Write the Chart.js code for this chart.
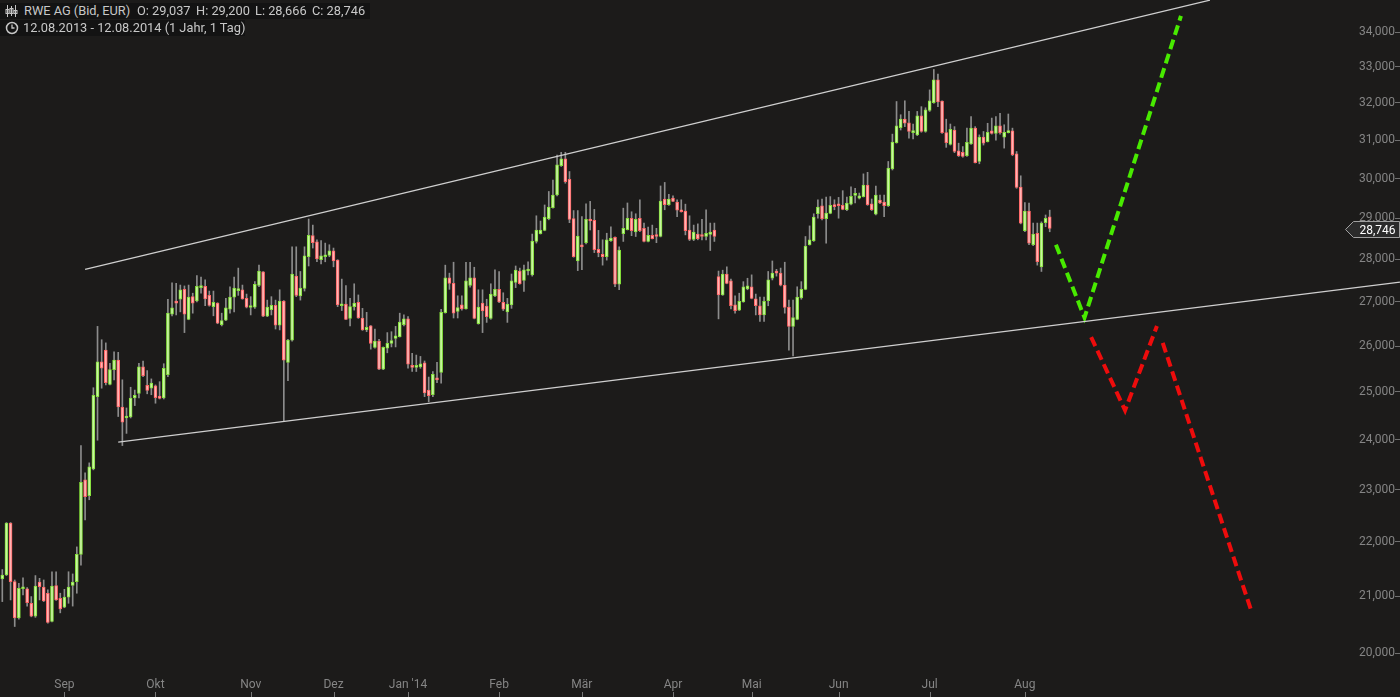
<!DOCTYPE html>
<html>
<head>
<meta charset="utf-8">
<script src="https://cdn.jsdelivr.net/npm/chart.js@4.4.1/dist/chart.umd.min.js"></script>
<style>
  html, body { margin: 0; padding: 0; background: #1c1b1a; }
  #wrap { position: relative; width: 1400px; height: 697px; overflow: hidden; }
  canvas { display: block; }
  .bar { position: absolute; left: 0; height: 16px; background: #131313; }
  .txt { position: absolute; color: #c8c8c8; font: 12.8px Roboto, sans-serif; line-height: 16px; white-space: pre; }
  svg { position: absolute; }
</style>
</head>
<body>
<div id="wrap">
  <canvas id="chart" width="1400" height="697"></canvas>
  <div class="bar" style="top:3px;width:370px"></div>
  <div class="bar" style="top:20px;width:245px"></div>
  <svg width="14" height="14" style="left:4px;top:4px" viewBox="0 0 14 14">
    <g stroke="#c6c6c6" stroke-width="1" fill="none">
      <line x1="3.5" y1="1" x2="3.5" y2="13"/><rect x="2" y="5.5" width="3" height="4"/>
      <line x1="7.5" y1="2" x2="7.5" y2="12"/><rect x="6" y="4.5" width="3" height="5"/>
      <line x1="11.5" y1="1" x2="11.5" y2="13"/><rect x="10" y="6.5" width="3" height="3"/>
    </g>
  </svg>
  <svg width="14" height="14" style="left:5px;top:21px" viewBox="0 0 14 14">
    <circle cx="7" cy="7" r="5.5" stroke="#c6c6c6" stroke-width="1.5" fill="none"/>
    <path d="M7 3.5 V7 H9.5" stroke="#c6c6c6" stroke-width="1.3" fill="none"/>
  </svg>
  <div class="txt" style="left:24px;top:3px">RWE AG (Bid, EUR)</div>
  <div class="txt" style="left:137px;top:3px">O: 29,037</div>
  <div class="txt" style="left:196px;top:3px">H: 29,200</div>
  <div class="txt" style="left:255px;top:3px">L: 28,666</div>
  <div class="txt" style="left:312px;top:3px">C: 28,746</div>
  <div class="txt" style="left:23px;top:20px">12.08.2013 - 12.08.2014 (1 Jahr, 1 Tag)</div>
</div>
<script>
// daily candles 12.08.2013 - 12.08.2014, EUR
const opens = [
  21.31,21.38,22.35,21.26,20.61,21.13,21.13,20.87,20.64,21.25,
  21.16,21.05,20.55,21.19,20.96,20.80,20.98,21.19,21.26,21.76,
  23.19,22.88,23.41,24.90,25.65,25.91,25.16,25.48,25.69,24.68,
  24.45,24.47,24.87,24.97,25.54,25.14,25.08,25.13,24.91,24.87,
  25.37,26.72,27.00,27.06,27.29,26.60,27.12,27.02,27.33,27.36,
  27.15,26.89,26.97,26.48,26.58,26.83,27.11,27.26,27.28,27.08,
  26.87,26.88,27.38,27.70,26.67,26.82,26.92,26.47,27.02,25.64,
  26.13,27.60,27.14,27.31,28.06,28.57,28.42,27.99,28.06,28.09,
  28.20,27.98,26.91,26.95,26.62,26.89,26.99,26.63,26.36,26.45,
  25.97,26.11,25.49,25.95,26.06,26.17,26.21,26.48,26.61,25.54,
  25.53,25.54,25.63,25.04,24.94,25.29,25.42,26.75,27.56,27.43,
  26.78,26.93,26.84,27.38,27.56,26.50,26.97,26.90,26.62,27.14,
  27.29,26.99,26.77,26.93,27.45,27.72,27.50,27.72,27.63,28.43,
  28.62,28.70,28.99,29.26,29.58,30.33,30.51,29.98,28.99,27.96,
  28.32,28.40,28.97,28.95,28.24,28.12,28.06,28.45,28.53,27.41,
  28.62,28.72,29.00,28.66,29.00,28.75,28.43,28.58,28.57,28.55,
  29.48,29.34,29.50,29.40,29.21,29.18,28.71,28.48,28.61,28.59,
  28.55,28.60,28.71,27.59,27.16,27.65,27.49,26.93,26.81,27.00,
  27.30,27.35,27.07,26.91,26.70,27.03,27.55,27.70,27.67,27.39,
  26.88,26.44,26.60,27.09,27.29,28.35,28.45,29.11,29.31,28.99,
  29.12,29.31,29.32,29.32,29.21,29.35,29.57,29.50,29.54,29.83,
  29.36,29.10,29.45,29.40,29.31,30.25,30.93,31.33,31.56,31.46,
  31.20,31.14,31.65,31.23,31.80,32.01,32.64,32.05,31.20,30.89,
  31.27,30.72,30.68,30.59,30.90,31.32,30.44,31.08,30.96,31.25,
  31.18,31.38,31.08,31.20,31.25,30.64,29.78,28.69,29.18,28.35,
  28.63,27.82,28.89,29.037
];
const highs = [
  21.48,22.36,22.36,21.29,21.23,21.33,21.15,20.99,21.37,21.32,
  21.29,21.11,21.44,21.44,21.05,21.12,21.44,21.40,21.90,23.88,
  23.33,23.53,25.09,26.44,26.14,26.07,25.62,25.87,25.86,25.26,
  24.66,25.10,25.04,25.62,25.67,25.46,25.28,25.15,25.22,25.61,
  27.06,27.44,27.43,27.39,27.37,27.39,27.20,27.61,27.58,27.51,
  27.25,27.25,26.98,26.74,27.08,27.35,27.58,27.79,27.39,27.18,
  27.12,27.47,27.86,27.71,27.04,27.12,27.04,27.28,27.03,26.15,
  28.30,28.30,27.71,28.30,28.98,28.83,28.47,28.45,28.39,28.35,
  28.27,27.99,27.53,27.38,27.08,27.42,27.16,26.85,26.76,26.46,
  26.38,26.15,25.98,26.30,26.32,26.44,26.74,26.70,26.66,25.84,
  25.80,25.77,25.67,25.32,25.44,25.64,26.83,27.86,27.67,27.93,
  27.14,27.14,27.93,27.93,27.81,27.28,27.28,27.06,27.42,27.75,
  27.71,27.21,27.08,27.65,27.84,27.79,27.86,27.94,28.61,29.06,
  28.93,29.33,29.67,29.96,30.61,30.68,30.68,30.18,29.19,29.19,
  29.04,29.36,29.42,29.22,28.70,28.47,28.63,28.79,28.54,28.30,
  29.25,29.38,29.16,29.11,29.46,28.88,28.78,28.83,28.75,29.81,
  29.90,29.60,29.56,29.46,29.46,29.35,29.06,28.83,28.86,28.97,
  29.21,28.88,28.88,27.72,27.74,27.82,27.53,27.14,27.20,27.47,
  27.55,27.63,27.18,27.11,27.11,27.71,27.96,27.76,27.79,27.93,
  27.04,27.04,27.35,27.47,28.55,28.81,29.11,29.46,29.48,29.53,
  29.54,29.46,29.52,29.69,29.53,29.79,29.75,29.63,30.12,30.16,
  29.48,29.81,29.58,29.58,30.44,31.16,32.04,31.68,32.06,31.77,
  31.43,31.77,31.90,31.87,32.36,32.93,32.80,32.06,31.56,31.43,
  31.36,30.92,30.83,31.32,31.63,31.36,31.14,31.23,31.45,31.59,
  31.63,31.72,31.41,31.70,31.32,30.70,30.07,29.39,29.38,28.88,
  28.88,28.91,29.08,29.200
];
const lows = [
  20.90,21.37,20.93,20.46,20.59,21.02,20.82,20.63,20.62,20.93,
  20.90,20.52,20.54,20.92,20.70,20.79,20.87,20.82,21.05,21.56,
  22.41,22.80,23.39,23.99,25.08,25.15,25.15,25.26,24.48,23.88,
  24.13,24.45,24.71,24.87,25.33,24.96,24.94,24.76,24.85,24.85,
  25.33,26.68,26.70,26.77,26.30,26.59,26.74,27.00,27.20,26.91,
  26.90,26.68,26.50,26.45,26.57,26.74,26.77,27.15,27.06,26.86,
  26.70,26.85,27.35,26.66,26.66,26.70,26.38,26.36,24.38,25.24,
  26.11,27.12,27.04,27.25,27.84,28.27,27.94,27.89,27.94,28.06,
  27.82,26.89,26.80,26.59,26.45,26.81,26.62,26.35,26.32,25.93,
  25.95,25.48,25.48,25.85,25.98,25.98,26.20,26.45,25.51,25.44,
  25.44,25.51,24.90,24.79,24.90,25.20,25.19,26.74,27.29,26.63,
  26.63,26.81,26.83,27.34,26.61,26.49,26.30,26.53,26.60,27.12,
  26.98,26.80,26.53,26.85,27.33,27.41,27.24,27.63,27.60,28.39,
  28.61,28.69,28.96,29.25,29.56,30.31,29.88,28.89,28.05,27.73,
  27.75,28.37,28.71,28.16,28.06,27.86,27.98,28.43,27.35,27.28,
  28.43,28.71,28.57,28.55,28.67,28.42,28.42,28.49,28.40,28.54,
  29.21,29.32,29.41,29.04,29.15,28.59,28.45,28.45,28.47,28.47,
  28.47,28.21,28.43,26.61,27.15,27.42,26.84,26.74,26.80,26.99,
  27.28,27.07,26.70,26.55,26.55,26.91,27.51,27.60,27.37,26.74,
  25.91,25.78,26.59,27.06,27.28,28.34,28.43,29.00,28.96,28.39,
  29.11,29.21,29.00,29.21,29.19,29.33,29.38,29.48,29.53,29.32,
  29.19,29.08,29.36,29.04,29.29,30.22,30.92,31.27,31.36,31.05,
  31.03,31.12,31.21,31.21,31.77,31.99,31.90,31.18,30.81,30.87,
  30.67,30.57,30.55,30.57,30.89,30.40,30.38,30.87,30.95,31.16,
  31.00,31.16,30.79,31.19,30.59,29.75,28.86,28.67,28.35,28.33,
  27.86,27.71,28.79,28.666
];
const closes = [
  21.38,22.35,21.26,20.61,21.14,21.15,20.88,20.64,21.18,21.17,
  20.91,20.53,21.18,20.93,20.77,20.98,21.16,21.25,21.76,23.14,
  22.86,23.45,24.93,25.65,25.51,25.20,25.48,25.69,24.68,24.36,
  24.47,24.87,24.93,25.54,25.35,25.03,25.19,24.88,24.86,25.51,
  26.74,26.86,26.97,27.28,26.72,27.11,26.97,27.36,27.35,27.07,
  26.92,26.99,26.51,26.57,26.86,27.11,27.32,27.31,27.07,26.88,
  26.89,27.41,27.72,26.67,26.88,26.92,26.47,27.02,25.69,26.13,
  27.65,27.15,27.32,28.08,28.58,28.40,28.01,28.08,28.10,28.20,
  27.96,26.93,26.95,26.60,26.89,26.97,26.63,26.36,26.42,26.06,
  26.11,25.49,25.97,26.06,26.12,26.23,26.54,26.61,25.60,25.53,
  25.56,25.61,24.98,24.92,25.38,25.26,26.76,27.56,27.43,26.74,
  26.87,26.84,27.49,27.56,26.62,26.88,26.79,26.66,27.18,27.29,
  27.00,26.83,26.95,27.49,27.74,27.42,27.75,27.76,28.44,28.71,
  28.71,29.03,29.28,29.58,30.35,30.51,29.92,28.97,28.06,28.56,
  28.30,28.97,28.93,28.23,28.16,28.06,28.47,28.51,27.41,28.22,
  28.75,29.00,28.69,28.97,28.69,28.43,28.58,28.50,28.55,29.43,
  29.34,29.48,29.42,29.20,29.16,28.69,28.48,28.66,28.50,28.55,
  28.63,28.66,28.55,27.16,27.65,27.43,26.91,26.80,27.01,27.35,
  27.37,27.08,26.91,26.70,27.01,27.51,27.67,27.67,27.39,26.87,
  26.44,26.64,27.11,27.29,28.32,28.47,29.03,29.28,28.99,29.13,
  29.32,29.29,29.31,29.22,29.38,29.55,29.61,29.56,29.83,29.34,
  29.21,29.58,29.38,29.31,30.27,30.95,31.38,31.56,31.45,31.23,
  31.25,31.65,31.23,31.81,32.06,32.64,32.03,31.20,30.93,31.29,
  30.70,30.59,30.57,30.94,31.32,30.41,31.08,30.92,31.21,31.18,
  31.38,31.20,31.21,31.25,30.62,29.77,28.88,29.18,28.39,28.61,
  27.94,28.88,29.00,28.746
];

// x axis: candle index, month labels at first trading day
const monthLabels = ['Sep', 'Okt', 'Nov', 'Dez', "Jan '14", 'Feb', 'Mär', 'Apr', 'Mai', 'Jun', 'Jul', 'Aug'];
const monthIdx = [15, 37, 60, 80, 98, 120, 140, 162, 181, 202, 224, 247];
const yTicks = [20, 21, 22, 23, 24, 25, 26, 27, 28, 29, 30, 31, 32, 33, 34];

// drawn trend channel (candle index / price)
const upperTrendX = [20, 291.7];
const upperTrendY = [27.76, 34.94];
const lowerTrendX = [28, 337.6];
const lowerTrendY = [23.95, 27.46];

// projected scenarios
const bullX = [254.5, 261.4, 284.7];
const bullY = [28.35, 26.64, 34.47];
const bearX1 = [263, 271.2, 278.9];
const bearY1 = [26.20, 24.61, 26.45];
const bearX2 = [280.3, 301.8];
const bearY2 = [26.07, 20.71];

const xMin = -0.556, xMax = 336.4;
const yMin = 19.68, yMax = 34.943;

const GREEN_FILL = '#c8f5a2', GREEN_LINE = '#85e03a';
const RED_FILL = '#ffb4b4', RED_LINE = '#ff6464';
const AXIS_TEXT = '#858585';

const up = closes.map((c, i) => c >= opens[i]);
const fmt = v => v.toFixed(3).replace('.', ',');
const pts = (xs, ys) => xs.map((x, i) => ({ x: x, y: ys[i] }));

const lastClose = closes[closes.length - 1];

const priceTag = {
    id: 'priceTag',
    afterDraw(chart) {
        const ctx = chart.ctx;
        const y = Math.round(chart.scales.y.getPixelForValue(lastClose)) + 0.5;
        const r = chart.width - 0.5;
        ctx.save();
        ctx.beginPath();
        ctx.moveTo(r - 54, y);
        ctx.lineTo(r - 46, y - 8);
        ctx.lineTo(r, y - 8);
        ctx.lineTo(r, y + 8);
        ctx.lineTo(r - 46, y + 8);
        ctx.closePath();
        ctx.fillStyle = '#2b2b2b';
        ctx.fill();
        ctx.strokeStyle = '#a0a0a0';
        ctx.lineWidth = 1;
        ctx.stroke();
        ctx.fillStyle = '#ffffff';
        ctx.font = '12px Roboto';
        ctx.textAlign = 'right';
        ctx.textBaseline = 'middle';
        ctx.fillText(fmt(lastClose), r - 4, y + 1);
        ctx.restore();
    }
};

const monthMarks = {
    id: 'monthMarks',
    afterDraw(chart) {
        const ctx = chart.ctx;
        const xs = chart.scales.x;
        ctx.save();
        ctx.strokeStyle = '#777777';
        ctx.lineWidth = 1;
        monthIdx.forEach(v => {
            const px = Math.round(xs.getPixelForValue(v)) + 0.5;
            ctx.beginPath();
            ctx.moveTo(px, 692);
            ctx.lineTo(px, 697);
            ctx.stroke();
        });
        ctx.restore();
    }
};

const lineSet = (data, color, width, dash) => ({
    type: 'line',
    data: data,
    borderColor: color,
    borderWidth: width,
    borderDash: dash || [],
    pointRadius: 0,
    fill: false,
    tension: 0,
    order: 0
});

new Chart(document.getElementById('chart').getContext('2d'), {
    type: 'bar',
    data: {
        datasets: [
            {
                // wicks
                data: lows.map((l, i) => ({ x: i, y: [l, highs[i]] })),
                backgroundColor: '#8c8c8c',
                barThickness: 1,
                grouped: false,
                order: 3
            },
            {
                // bodies
                data: opens.map((o, i) => ({ x: i, y: [o, closes[i]] })),
                backgroundColor: up.map(u => u ? GREEN_FILL : RED_FILL),
                borderColor: up.map(u => u ? GREEN_LINE : RED_LINE),
                borderWidth: 1,
                borderSkipped: false,
                barThickness: 3,
                minBarLength: 2,
                grouped: false,
                order: 2
            },
            lineSet(pts(upperTrendX, upperTrendY), '#cfcfcf', 1.2),
            Object.assign(lineSet(pts(lowerTrendX, lowerTrendY), '#cfcfcf', 1.2), { clip: false }),
            lineSet(pts(bullX, bullY), '#48ea00', 4, [10, 5]),
            lineSet(pts(bearX1, bearY1), '#ee0c0c', 4, [10, 5]),
            lineSet(pts(bearX2, bearY2), '#ee0c0c', 4, [10, 5])
        ]
    },
    options: {
        responsive: false,
        animation: false,
        devicePixelRatio: 1,
        events: [],
        layout: { padding: 0 },
        plugins: { legend: { display: false }, tooltip: { enabled: false } },
        scales: {
            x: {
                type: 'linear',
                min: xMin,
                max: xMax,
                offset: false,
                afterBuildTicks: s => { s.ticks = monthIdx.map(v => ({ value: v })); },
                afterFit: s => { s.height = 25; s.paddingLeft = 0; s.paddingRight = 0; },
                ticks: {
                    autoSkip: false,
                    maxRotation: 0,
                    minRotation: 0,
                    padding: 6,
                    color: AXIS_TEXT,
                    font: { family: 'Roboto', size: 12 },
                    callback: v => monthLabels[monthIdx.indexOf(v)]
                },
                grid: { display: false, drawTicks: false, offset: false },
                border: { display: false }
            },
            y: {
                type: 'logarithmic',
                position: 'right',
                min: yMin,
                max: yMax,
                afterBuildTicks: s => { s.ticks = yTicks.map(v => ({ value: v })); },
                afterFit: s => { s.width = 5; s.paddingTop = 0; s.paddingBottom = 0; },
                ticks: {
                    mirror: true,
                    padding: 0,
                    color: AXIS_TEXT,
                    font: { family: 'Roboto', size: 12 },
                    callback: v => fmt(v)
                },
                grid: { drawOnChartArea: false, drawTicks: true, tickLength: 5, color: '#707070' },
                border: { display: false }
            }
        }
    },
    plugins: [priceTag, monthMarks]
});
</script>
</body>
</html>
